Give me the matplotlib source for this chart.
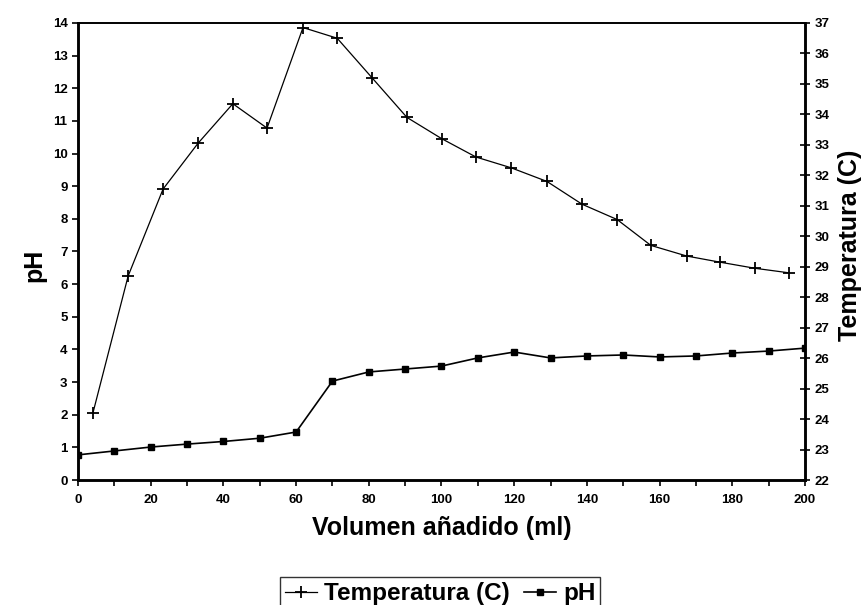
import matplotlib
matplotlib.use('Agg')
import matplotlib.pyplot as plt
from matplotlib.ticker import MultipleLocator

plt.rcParams['font.family'] = ['Liberation Sans', 'DejaVu Sans']
plt.rcParams['font.weight'] = 'bold'

# pH readings, every 10 ml
ph_vol = [0, 10, 20, 30, 40, 50, 60, 70, 80, 90, 100,
          110, 120, 130, 140, 150, 160, 170, 180, 190, 200]
ph_val = [0.77, 0.89, 1.01, 1.10, 1.18, 1.28, 1.47, 3.03, 3.31, 3.40, 3.49,
          3.74, 3.92, 3.74, 3.80, 3.83, 3.77, 3.80, 3.89, 3.95, 4.04]

# temperature readings
temp_vol = [4.1, 13.8, 23.4, 33.0, 42.6, 52.0, 61.9, 71.3, 80.9, 90.5, 100.1,
            109.5, 119.1, 129.0, 138.7, 148.3, 157.6, 167.5, 176.6, 186.2, 195.6]
temp_val = [24.2, 28.7, 31.55, 33.05, 34.35, 33.55, 36.85, 36.5, 35.2, 33.9, 33.2,
            32.6, 32.25, 31.8, 31.05, 30.55, 29.7, 29.35, 29.15, 28.95, 28.8]

fig = plt.figure(figsize=(8.65, 6.05), dpi=100)
ax = fig.add_axes([0.0902, 0.2066, 0.8404, 0.7554])
ax2 = ax.twinx()

l_ph, = ax.plot(ph_vol, ph_val, color='black', lw=1.2, marker='s', ms=5,
                label='pH')
l_t, = ax2.plot(temp_vol, temp_val, color='black', lw=0.9, marker='+', ms=8,
                mew=1.3, label='Temperatura (C)')

ax.set_xlim(0, 200)
ax.set_ylim(0, 14)
ax2.set_ylim(22, 37)

ax.xaxis.set_major_locator(MultipleLocator(20))
ax.xaxis.set_minor_locator(MultipleLocator(10))
ax.yaxis.set_major_locator(MultipleLocator(1))
ax2.yaxis.set_major_locator(MultipleLocator(1))

ax.tick_params(axis='x', which='both', direction='out', length=4, width=1.2,
               labelsize=9.5, pad=6)
ax.tick_params(axis='y', direction='out', length=4, width=1.2, labelsize=9.5)
ax2.tick_params(axis='y', direction='inout', length=7, width=1.2, labelsize=9.5)

for lab in ax.get_xticklabels() + ax.get_yticklabels() + ax2.get_yticklabels():
    lab.set_fontweight('bold')

for a in (ax, ax2):
    for s in ('left', 'right', 'bottom'):
        a.spines[s].set_linewidth(1.8)
    a.spines['top'].set_linewidth(1.2)

ax.set_xlabel('Volumen añadido (ml)', fontsize=18, fontweight='bold',
              labelpad=7)
ax.set_ylabel('pH', fontsize=18, fontweight='bold')
ax.yaxis.set_label_coords(-0.044, 0.47)
ax2.set_ylabel('Temperatura (C)', fontsize=18, fontweight='bold')
ax2.yaxis.set_label_coords(1.046, 0.514)

leg = fig.legend([l_t, l_ph], ['Temperatura (C)', 'pH'], loc='upper center',
                 bbox_to_anchor=(0.509, 0.066), ncol=2, frameon=True,
                 fancybox=False, handlelength=1.3,
                 handletextpad=0.3, columnspacing=0.6, borderpad=0.2,
                 prop={'weight': 'bold', 'size': 17.5})
leg.get_frame().set_edgecolor('black')
leg.get_frame().set_linewidth(1.0)

fig.savefig('out.png', dpi=100)
